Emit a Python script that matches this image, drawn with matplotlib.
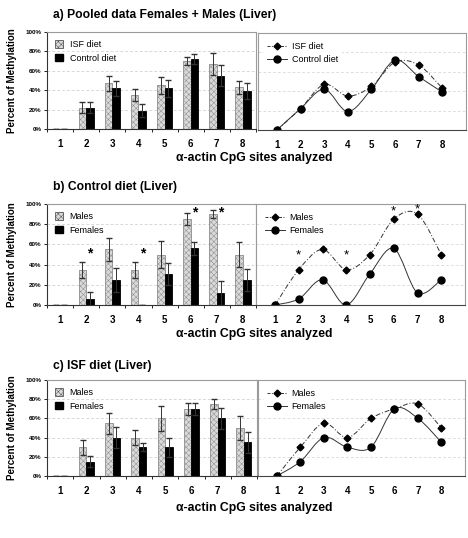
import numpy as np
import matplotlib
matplotlib.use("Agg")
import matplotlib.pyplot as plt
from matplotlib.path import Path
from matplotlib.patches import PathPatch, Patch
from matplotlib.lines import Line2D

plt.rcParams['font.family'] = ['Liberation Sans', 'DejaVu Sans']
plt.rcParams['hatch.linewidth'] = 0.35

sites = [1, 2, 3, 4, 5, 6, 7, 8]

# a) pooled data
a_isf = [0, 22, 47, 35, 45, 70, 67, 43]
a_isf_err = [0, 6, 8, 6, 9, 4, 11, 7]
a_ctl = [0, 22, 42, 19, 42, 72, 55, 39]
a_ctl_err = [0, 6, 8, 7, 9, 5, 11, 8]

# b) control diet
b_male = [0, 35, 55, 35, 50, 85, 90, 50]
b_male_err = [0, 8, 11, 8, 13, 6, 4, 12]
b_fem = [0, 6, 25, 0, 31, 56, 12, 25]
b_fem_err = [0, 7, 12, 0, 11, 6, 12, 11]
b_star_sites = [2, 4, 6, 7]
b_star_bar_y = [51, 51, 92, 92]
b_star_line_y = [49, 49, 93, 95]

# c) ISF diet
c_male = [0, 30, 55, 40, 60, 70, 75, 50]
c_male_err = [0, 8, 11, 8, 13, 6, 5, 12]
c_fem = [0, 15, 40, 30, 30, 70, 60, 35]
c_fem_err = [0, 6, 11, 4, 10, 6, 11, 11]

W, H = 468, 538
fig = plt.figure(figsize=(W / 100, H / 100), dpi=100)

HATCH_FACE = '#dadada'
HATCH_EDGE = '#8c8c8c'


def box(x0, y0, x1, y1):
    return [x0 / W, 1 - y1 / H, (x1 - x0) / W, (y1 - y0) / H]


def smooth(ax, x, y, **kw):
    # Excel style smoothed line drawn as bezier curves
    pts = np.column_stack([x, y]).astype(float)
    n = len(pts)
    verts = [pts[0]]
    codes = [Path.MOVETO]
    for i in range(n - 1):
        p0 = pts[max(i - 1, 0)]
        p1 = pts[i]
        p2 = pts[i + 1]
        p3 = pts[min(i + 2, n - 1)]
        verts += [p1 + (p2 - p0) / 6, p2 - (p3 - p1) / 6, p2]
        codes += [Path.CURVE4] * 3
    ax.add_patch(PathPatch(Path(verts, codes), fill=False, **kw))


def bar_panel(rect, v1, e1, v2, e2, labels):
    ax = fig.add_axes(rect)
    x = np.array(sites)
    w = 0.29
    ax.bar(x - w / 2, v1, w, yerr=e1, color=HATCH_FACE, edgecolor=HATCH_EDGE,
           hatch='xxxxxx', linewidth=0.6, error_kw=dict(elinewidth=0.7, capsize=2.5, ecolor='#333333'))
    ax.bar(x + w / 2, v2, w, yerr=e2, color='black', edgecolor='black',
           linewidth=0.6, error_kw=dict(elinewidth=0.7, capsize=2.5, ecolor='#333333'))
    ax.set_xlim(0.5, 8.5)
    ax.set_ylim(0, 100)
    ax.set_yticks([0, 20, 40, 60, 80, 100])
    ax.set_yticklabels(['0%', '20%', '40%', '60%', '80%', '100%'], fontsize=4.5, fontweight='bold')
    ax.set_xticks(x)
    ax.set_xticklabels([str(s) for s in sites], fontsize=7, fontweight='bold')
    ax.set_xticks(np.arange(0.5, 9, 1), minor=True)
    ax.tick_params(axis='x', which='major', length=0, pad=7)
    ax.tick_params(axis='x', which='minor', length=2.5, width=0.6, direction='out')
    ax.tick_params(axis='y', length=2.5, width=0.6, pad=1.5)
    for y in [20, 40, 60, 80]:
        ax.axhline(y, color='#c8c8c8', lw=0.5, ls=(0, (4, 3)), zorder=0)
    for s in ['top', 'right']:
        ax.spines[s].set_color('#9a9a9a')
    for s in ['left', 'bottom']:
        ax.spines[s].set_color('#333333')
        ax.spines[s].set_linewidth(0.8)
    handles = [Patch(facecolor=HATCH_FACE, edgecolor='#555555', hatch='xxxxxx', lw=0.6),
               Patch(facecolor='black', edgecolor='black')]
    ax.legend(handles, labels, loc='upper left', frameon=False, fontsize=6.5,
              handlelength=0.9, handleheight=0.9, borderaxespad=0.5, labelspacing=0.5,
              handletextpad=0.7, bbox_to_anchor=(0.0, 1.0))
    ax.set_ylabel('Percent of Methylation', fontsize=7, fontweight='bold', labelpad=6)
    return ax


def line_panel(rect, v1, v2, labels):
    ax = fig.add_axes(rect)
    ax.set_xlim(0.2, 9.0)
    ax.set_ylim(0, 100)
    for y in [20, 40, 60, 80]:
        ax.axhline(y, color='#d0d0d0', lw=0.5, ls=(0, (4, 3)), zorder=0)
    smooth(ax, sites, v1, color='#333333', lw=0.7, ls=(0, (5, 2, 1, 2)))
    smooth(ax, sites, v2, color='#333333', lw=0.7)
    ax.plot(sites, v1, ls='none', marker='D', ms=3.5, color='black')
    ax.plot(sites, v2, ls='none', marker='o', ms=5, color='black')
    ax.set_xticks(sites)
    ax.set_xticklabels([str(s) for s in sites], fontsize=7, fontweight='bold')
    ax.tick_params(axis='x', length=0, pad=7)
    ax.set_yticks([])
    for s in ax.spines.values():
        s.set_color('#9a9a9a')
        s.set_linewidth(0.8)
    ax.spines['bottom'].set_color('#444444')
    handles = [Line2D([], [], color='#333333', lw=0.7, ls=(0, (3, 1.5, 1, 1.5)), marker='D', ms=3.5, mfc='black', mec='black'),
               Line2D([], [], color='#333333', lw=0.7, marker='o', ms=5, mfc='black', mec='black')]
    leg = ax.legend(handles, labels, loc='upper left', fontsize=6.5, frameon=True,
                    handlelength=2.2, handletextpad=0.5, borderaxespad=0.4, labelspacing=0.4,
                    bbox_to_anchor=(0.01, 0.98))
    leg.get_frame().set_edgecolor('none')
    leg.get_frame().set_facecolor('white')
    leg.get_frame().set_alpha(1)
    return ax


def title(y, text):
    fig.text(53 / W, 1 - y / H, text, fontsize=8.7, fontweight='bold', va='center', ha='left')


def xlabel(y):
    fig.text(254 / W, 1 - y / H, 'α-actin CpG sites analyzed', fontsize=8.8,
             fontweight='bold', va='center', ha='center')


# panel a
title(15, 'a) Pooled data Females + Males (Liver)')
bar_panel(box(47, 32, 256, 129), a_isf, a_isf_err, a_ctl, a_ctl_err, ['ISF diet', 'Control diet'])
line_panel(box(258, 33, 466, 130), a_isf, a_ctl, ['ISF diet', 'Control diet'])
xlabel(158)

# panel b
title(187, 'b) Control diet (Liver)')
axb = bar_panel(box(47, 204, 256, 305), b_male, b_male_err, b_fem, b_fem_err, ['Males', 'Females'])
for s, y in zip(b_star_sites, b_star_bar_y):
    axb.text(s + 0.15, y, '*', fontsize=10, fontweight='bold', ha='center', va='center')
axl = line_panel(box(256, 204, 465, 305), b_male, b_fem, ['Males', 'Females'])
for s, y in zip(b_star_sites, b_star_line_y):
    axl.text(s, y, '*', fontsize=9.5, ha='center', va='center')
xlabel(334)

# panel c
title(366, 'c) ISF diet (Liver)')
bar_panel(box(47, 380, 257, 476), c_male, c_male_err, c_fem, c_fem_err, ['Males', 'Females'])
line_panel(box(258, 380, 465, 476), c_male, c_fem, ['Males', 'Females'])
xlabel(508)

fig.savefig('out.png', dpi=100)
